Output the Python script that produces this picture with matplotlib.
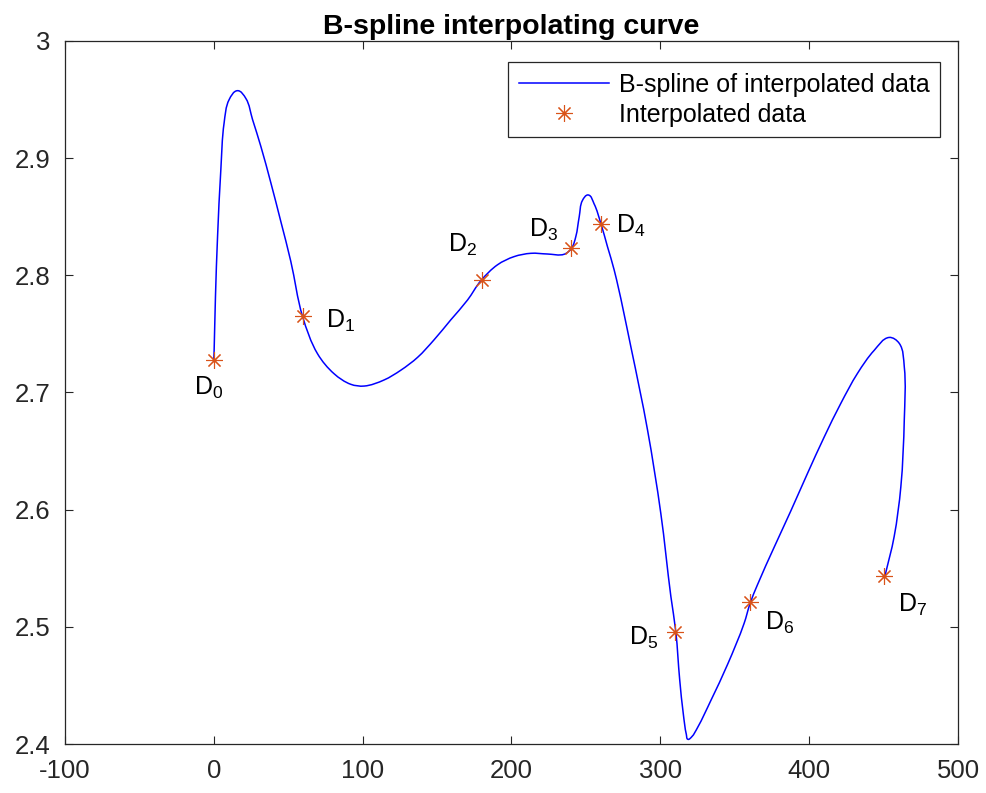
import matplotlib
matplotlib.use('Agg')
import matplotlib.pyplot as plt
import numpy as np
from matplotlib.lines import Line2D
from matplotlib.path import Path
from matplotlib.patches import PathPatch

plt.rcParams['font.family'] = ['Liberation Sans', 'DejaVu Sans']
plt.rcParams['mathtext.fontset'] = 'custom'
plt.rcParams['mathtext.rm'] = 'Liberation Sans'
plt.rcParams['mathtext.it'] = 'Liberation Sans'

# ---- data ----
data_x = [0, 60, 180, 240, 260, 310, 360, 450]
data_y = [2.728, 2.765, 2.796, 2.823, 2.844, 2.496, 2.521, 2.543]
point_names = ['0', '1', '2', '3', '4', '5', '6', '7']

# B-spline curve
curve_x = [0.0, 0.2, 1.1, 2.5, 4.7, 6.9, 10.3, 15.9, 21.5, 26.0, 31.6, 38.3, 45.0,
           51.7, 59.6, 69.7, 80.8, 92.0, 101.0, 114.4, 125.6, 136.9, 148.0, 159.2,
           170.5, 179.4, 190.6, 201.8, 213.0, 224.2, 235.4, 240.3, 243.2, 245.5,
           247.7, 251.5, 255.5, 260.0, 264.5, 269.0, 280.2, 291.4, 300.3, 307.1,
           310.4, 313.0, 315.5, 317.5, 318.5, 321.0, 325.0, 333.9, 345.2, 356.3,
           360.3, 365.3, 376.5, 387.7, 398.9, 410.1, 421.3, 432.5, 443.7, 453.8,
           460.5, 463.9, 463.9, 461.6, 457.1, 450.8]
curve_y = [2.728, 2.736, 2.782, 2.833, 2.890, 2.930, 2.950, 2.9576, 2.951, 2.933,
           2.910, 2.879, 2.846, 2.812, 2.765, 2.733, 2.716, 2.707, 2.7055, 2.7107,
           2.719, 2.730, 2.745, 2.762, 2.779, 2.7954, 2.809, 2.816, 2.8188, 2.8182,
           2.818, 2.823, 2.833, 2.850, 2.864, 2.8686, 2.861, 2.8444, 2.8244, 2.8045,
           2.739, 2.668, 2.597, 2.5257, 2.4959, 2.455, 2.425, 2.408, 2.404, 2.406,
           2.414, 2.437, 2.468, 2.503, 2.520, 2.536, 2.568, 2.599, 2.631, 2.662,
           2.6908, 2.7164, 2.736, 2.747, 2.742, 2.722, 2.6765, 2.6196, 2.577, 2.5428]

x_ticks = [-100, 0, 100, 200, 300, 400, 500]
y_ticks = [2.4, 2.5, 2.6, 2.7, 2.8, 2.9, 3.0]
y_tick_labels = ['2.4', '2.5', '2.6', '2.7', '2.8', '2.9', '3']

# label offsets (data units) relative to each point
label_dx = [-13.4, 15.3, -22.8, -28.3, 10.1, -31.2, 10.2, 9.6]
label_dy = [-0.030, -0.010, 0.024, 0.0097, -0.008, -0.0115, -0.0237, -0.0303]

axcol = '#262626'
orange = '#D95319'
blue = '#0000FF'

fig = plt.figure(figsize=(9.87, 7.93), dpi=100)
ax = fig.add_axes([65/987, 49/793, 893/987, 703/793])
ax.set_xlim(-100, 500)
ax.set_ylim(2.4, 3.0)


def smooth_path(xs, ys):
    """Cubic Bezier path passing through the traced points (smooth rendering)."""
    P = np.column_stack([xs, ys]).astype(float)
    sx, sy = 893 / 600.0, 703 / 0.6
    Q = P * [sx, sy]
    n = len(Q)
    T = np.zeros_like(Q)
    for i in range(n):
        if i == 0:
            d = Q[1] - Q[0]
        elif i == n - 1:
            d = Q[-1] - Q[-2]
        else:
            a = Q[i] - Q[i - 1]
            b = Q[i + 1] - Q[i]
            d = a / np.linalg.norm(a) + b / np.linalg.norm(b)
        T[i] = d / np.linalg.norm(d)
    verts = [P[0]]
    codes = [Path.MOVETO]
    for i in range(n - 1):
        L = np.linalg.norm(Q[i + 1] - Q[i]) / 3.0
        c1 = (Q[i] + T[i] * L) / [sx, sy]
        c2 = (Q[i + 1] - T[i + 1] * L) / [sx, sy]
        verts += [c1, c2, P[i + 1]]
        codes += [Path.CURVE4] * 3
    return Path(np.array(verts), codes)


ax.add_patch(PathPatch(smooth_path(curve_x, curve_y), facecolor='none',
                       edgecolor=blue, lw=1.1, transform=ax.transData))
line_handle = Line2D([], [], color=blue, lw=1.1)

star = (8, 2, 0)
pts, = ax.plot(data_x, data_y, linestyle='none', marker=star, markersize=12,
               markeredgewidth=0.8, color=orange)

for name, x, y, dx, dy in zip(point_names, data_x, data_y, label_dx, label_dy):
    ax.text(x + dx, y + dy, r'$\mathrm{D}_{%s}$' % name, fontsize=18,
            ha='left', va='baseline', color='black')

ax.set_xticks(x_ticks)
ax.set_xticklabels([str(v) for v in x_ticks])
ax.set_yticks(y_ticks)
ax.set_yticklabels(y_tick_labels)
ax.tick_params(direction='in', length=6, width=0.8, colors=axcol,
               labelsize=18.5, top=True, right=True)
ax.tick_params(axis='x', pad=11)
ax.tick_params(axis='y', pad=10.5)
for sp in ax.spines.values():
    sp.set_color(axcol)
    sp.set_linewidth(0.9)

ax.set_title('B-spline interpolating curve', fontsize=20.5, fontweight='bold',
             color='black', pad=5)

leg = ax.legend([line_handle, pts], ['B-spline of interpolated data', 'Interpolated data'],
                loc='upper right', bbox_to_anchor=(0.980, 0.970), borderaxespad=0,
                fontsize=18, handlelength=3.6, handletextpad=0.4,
                labelspacing=0.25, borderpad=0.42, fancybox=False, framealpha=1)
leg.get_frame().set_edgecolor(axcol)
leg.get_frame().set_linewidth(0.9)

fig.savefig('out.png', dpi=100)
